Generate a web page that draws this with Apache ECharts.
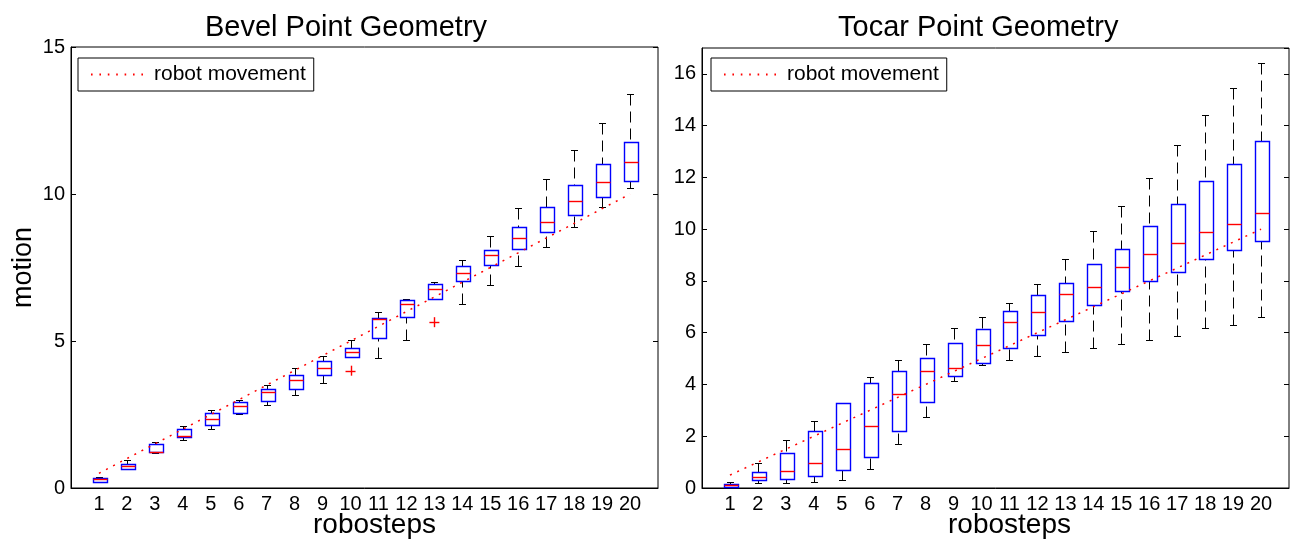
<!DOCTYPE html>
<html>
<head>
<meta charset="utf-8">
<script src="https://cdn.jsdelivr.net/npm/echarts@6/dist/echarts.min.js"></script>
<style>
html,body{margin:0;padding:0;background:#fff;}
#chart{width:1292px;height:540px;}
</style>
</head>
<body>
<div id="chart"></div>
<script>
// ---- data ----
const steps = [1,2,3,4,5,6,7,8,9,10,11,12,13,14,15,16,17,18,19,20];
const xLabels = ['1','2','3','4','5','6','7','8','9','10','11','12','13','14','15','16','17','18','19','20'];
const robotMovement = [0.5,1.0,1.5,2.0,2.5,3.0,3.5,4.0,4.5,5.0,5.5,6.0,6.5,7.0,7.5,8.0,8.5,9.0,9.5,10.0];

// Bevel: whisker low, Q1, median, Q3, whisker high
const bevelMin = [0.19,0.66,1.18,1.63,2.01,2.52,2.82,3.15,3.58,4.45,4.41,5.04,6.43,6.25,6.89,7.54,8.19,8.89,9.56,10.21];
const bevelQ1  = [0.19,0.66,1.21,1.72,2.13,2.54,2.97,3.38,3.84,4.45,5.09,5.83,6.43,7.03,7.59,8.13,8.70,9.30,9.90,10.45];
const bevelMed = [0.29,0.76,1.22,1.78,2.34,2.78,3.25,3.66,4.08,4.64,5.75,6.25,6.76,7.31,7.91,8.51,9.06,9.75,10.40,11.10];
const bevelQ3  = [0.35,0.82,1.50,2.01,2.56,2.94,3.38,3.85,4.31,4.77,5.78,6.38,6.95,7.54,8.08,8.88,9.57,10.30,11.03,11.78];
const bevelMax = [0.39,0.94,1.55,2.10,2.65,2.98,3.51,4.08,4.50,5.04,5.98,6.43,7.00,7.77,8.56,9.52,10.52,11.50,12.43,13.39];
const bevelOutlierStep  = [10, 13];
const bevelOutlierValue = [3.99, 5.64];

// Tocar
const tocarMin = [0.05,0.18,0.18,0.22,0.32,0.75,1.69,2.75,4.15,4.77,4.94,5.11,5.26,5.42,5.56,5.73,5.88,6.17,6.31,6.59];
const tocarQ1  = [0.05,0.29,0.36,0.48,0.70,1.18,2.22,3.33,4.32,4.84,5.42,5.93,6.46,7.08,7.62,7.98,8.36,8.84,9.21,9.56];
const tocarMed = [0.13,0.43,0.65,0.96,1.52,2.38,3.62,4.53,4.64,5.52,6.40,6.79,7.51,7.76,8.55,9.04,9.46,9.88,10.20,10.63];
const tocarQ3  = [0.17,0.60,1.37,2.22,3.27,4.05,4.53,5.03,5.62,6.15,6.83,7.45,7.93,8.67,9.23,10.13,10.97,11.88,12.51,13.40];
const tocarMax = [0.23,0.97,1.85,2.58,3.30,4.27,4.95,5.56,6.20,6.60,7.15,7.88,8.86,9.92,10.88,11.97,13.24,14.40,15.45,16.43];

// ---- helpers ----
const FONT = 'Liberation Sans, Arial, Helvetica, sans-serif';
function boxRows(mn, q1, md, q3, mx) {
  return steps.map((s, i) => [s, mn[i], q1[i], md[i], q3[i], mx[i]]);
}
function px(v) { return Math.round(v) + 0.5; }

function renderBox(params, api) {
  const x = api.value(0);
  const pMin = api.coord([x, api.value(1)]);
  const pQ1 = api.coord([x, api.value(2)]);
  const pMd = api.coord([x, api.value(3)]);
  const pQ3 = api.coord([x, api.value(4)]);
  const pMax = api.coord([x, api.value(5)]);
  const unit = api.size([1, 0])[0];
  const hb = unit * 0.25, hc = unit * 0.125;
  const cx = px(pMd[0]);
  const whisk = { stroke: '#000', lineWidth: 1, lineDash: [11, 6] };
  const solid = { stroke: '#000', lineWidth: 1 };
  return {
    type: 'group',
    children: [
      { type: 'line', shape: { x1: cx, y1: px(pMax[1]), x2: cx, y2: px(pQ3[1]) }, style: whisk },
      { type: 'line', shape: { x1: cx, y1: px(pMin[1]), x2: cx, y2: px(pQ1[1]) }, style: whisk },
      { type: 'line', shape: { x1: cx - hc, y1: px(pMax[1]), x2: cx + hc, y2: px(pMax[1]) }, style: solid },
      { type: 'line', shape: { x1: cx - hc, y1: px(pMin[1]), x2: cx + hc, y2: px(pMin[1]) }, style: solid },
      { type: 'rect', shape: { x: px(cx - hb), y: px(pQ3[1]), width: Math.round(2 * hb), height: Math.max(1, Math.round(pQ1[1]) - Math.round(pQ3[1])) },
        style: { fill: 'none', stroke: '#0000ff', lineWidth: 1.4 } },
      { type: 'line', shape: { x1: px(cx - hb), y1: px(pMd[1]), x2: px(cx - hb) + Math.round(2 * hb), y2: px(pMd[1]) },
        style: { stroke: '#ff0000', lineWidth: 1.4 } }
    ]
  };
}
function renderOutlier(params, api) {
  const p = api.coord([api.value(0), api.value(1)]);
  const h = 5;
  const st = { stroke: '#ff0000', lineWidth: 1.4 };
  return {
    type: 'group',
    children: [
      { type: 'line', shape: { x1: p[0] - h, y1: px(p[1]), x2: p[0] + h, y2: px(p[1]) }, style: st },
      { type: 'line', shape: { x1: px(p[0]), y1: p[1] - h, x2: px(p[0]), y2: p[1] + h }, style: st }
    ]
  };
}

function xAxisCfg(gridIndex, padLeft) {
  return {
    type: 'value', gridIndex: gridIndex, min: 0, max: 21, interval: 1,
    name: 'robosteps', nameLocation: 'middle', nameGap: 23, nameMoveOverlap: false,
    nameTextStyle: { fontSize: 28, fontFamily: FONT, color: '#000', padding: [0, 0, 0, padLeft] },
    axisLine: { show: true, lineStyle: { color: '#000', width: 1 } },
    axisTick: { show: false },
    splitLine: { show: false },
    axisLabel: {
      fontSize: 20, fontFamily: FONT, color: '#000', margin: 6,
      formatter: v => (v >= 1 && v <= 20) ? xLabels[v - 1] : ''
    }
  };
}
function yAxisCfg(gridIndex, max, interval, left, name) {
  return {
    type: 'value', gridIndex: gridIndex, min: 0, max: max, interval: interval,
    position: left ? 'left' : 'right',
    name: name || '', nameLocation: 'middle', nameGap: 34,
    nameTextStyle: { fontSize: 27, fontFamily: FONT, color: '#000' },
    axisLine: { show: left, lineStyle: { color: '#000', width: 1 } },
    axisTick: { show: true, inside: true, length: 5, lineStyle: { color: '#000', width: 1 } },
    splitLine: { show: false },
    axisLabel: { show: left, fontSize: 20, fontFamily: FONT, color: '#000', margin: 6, showMaxLabel: max % interval === 0 }
  };
}
// dotted legend sample: 7 short red dashes across 52px
const DOT_ICON = 'path://M0,0h1.6v2h-1.6zM8.4,0h1.6v2h-1.6zM16.8,0h1.6v2h-1.6zM25.2,0h1.6v2h-1.6zM33.6,0h1.6v2h-1.6zM42,0h1.6v2h-1.6zM50.4,0h1.6v2h-1.6z';
function legendCfg(left) {
  return {
    left: left, top: 58, data: [{ name: 'robot movement', icon: DOT_ICON }],
    itemWidth: 52, itemHeight: 2, itemGap: 5,
    padding: [5, 8, 5, 13], borderColor: '#000', borderWidth: 1, backgroundColor: '#fff',
    itemStyle: { color: '#ff0000' },
    textStyle: { fontSize: 21, fontFamily: FONT, color: '#000', lineHeight: 23, padding: [0, 0, 0, 6] }
  };
}

const chart = echarts.init(document.getElementById('chart'), null, { renderer: 'canvas' });
chart.setOption({
  animation: false,
  backgroundColor: '#fff',
  title: [
    { text: 'Bevel Point Geometry', left: 200, top: 8, textStyle: { fontSize: 29, fontWeight: 'normal', fontFamily: FONT, color: '#000' } },
    { text: 'Tocar Point Geometry', left: 833, top: 8, textStyle: { fontSize: 29, fontWeight: 'normal', fontFamily: FONT, color: '#000' } }
  ],
  legend: [legendCfg(78), legendCfg(711)],
  grid: [
    { left: 71, right: 634, top: 47, bottom: 52, show: true, borderColor: '#000', borderWidth: 1, backgroundColor: '#fff', outerBoundsMode: 'none' },
    { left: 702, right: 3, top: 48, bottom: 52, show: true, borderColor: '#000', borderWidth: 1, backgroundColor: '#fff', outerBoundsMode: 'none' }
  ],
  xAxis: [xAxisCfg(0, 20), xAxisCfg(1, 28)],
  yAxis: [
    yAxisCfg(0, 15, 5, true, 'motion'),
    yAxisCfg(0, 15, 5, false),
    yAxisCfg(1, 17, 2, true),
    yAxisCfg(1, 17, 2, false)
  ],
  series: [
    { name: 'robot movement', type: 'line', xAxisIndex: 0, yAxisIndex: 0,
      data: steps.map((s, i) => [s, robotMovement[i]]), symbol: 'none', showSymbol: false,
      lineStyle: { color: '#ff0000', width: 1.5, type: [2, 6] }, itemStyle: { color: '#ff0000' }, z: 3 },
    { name: 'bevel boxes', type: 'custom', xAxisIndex: 0, yAxisIndex: 0,
      data: boxRows(bevelMin, bevelQ1, bevelMed, bevelQ3, bevelMax),
      encode: { x: 0, y: [1, 2, 3, 4, 5] }, renderItem: renderBox, z: 2 },
    { name: 'bevel outliers', type: 'custom', xAxisIndex: 0, yAxisIndex: 0,
      data: bevelOutlierStep.map((s, i) => [s, bevelOutlierValue[i]]),
      encode: { x: 0, y: 1 }, renderItem: renderOutlier, z: 2 },
    { name: 'robot movement', type: 'line', xAxisIndex: 1, yAxisIndex: 2,
      data: steps.map((s, i) => [s, robotMovement[i]]), symbol: 'none', showSymbol: false,
      lineStyle: { color: '#ff0000', width: 1.5, type: [2, 6] }, itemStyle: { color: '#ff0000' }, z: 3 },
    { name: 'tocar boxes', type: 'custom', xAxisIndex: 1, yAxisIndex: 2,
      data: boxRows(tocarMin, tocarQ1, tocarMed, tocarQ3, tocarMax),
      encode: { x: 0, y: [1, 2, 3, 4, 5] }, renderItem: renderBox, z: 2 }
  ]
});
</script>
</body>
</html>
